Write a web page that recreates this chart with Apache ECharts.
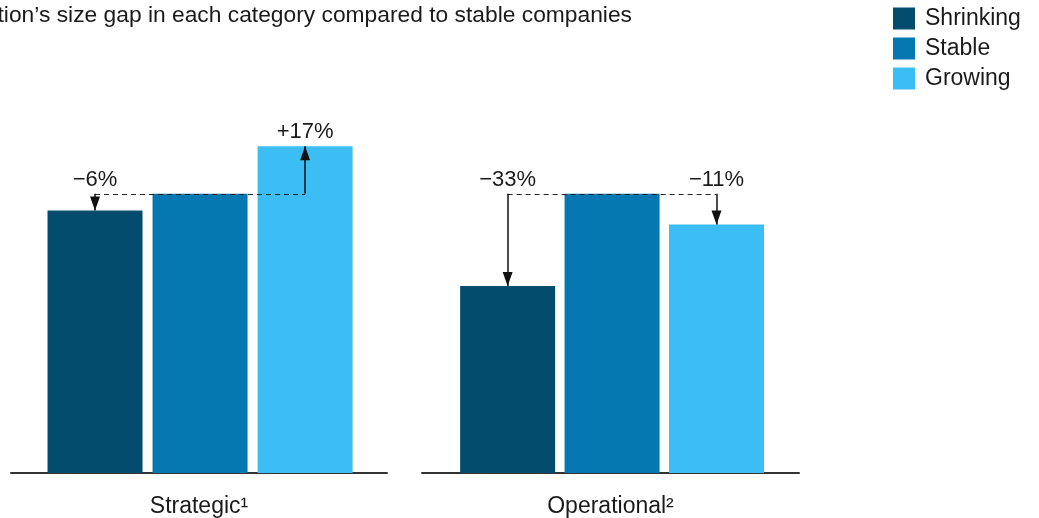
<!DOCTYPE html>
<html>
<head>
<meta charset="utf-8">
<script src="https://cdn.jsdelivr.net/npm/echarts@6/dist/echarts.min.js"></script>
<style>
  html, body { margin: 0; padding: 0; background: #ffffff; }
  #chart { width: 1039px; height: 518px; }
</style>
</head>
<body>
<div id="chart"></div>
<script>
// Size of each organization type, indexed to stable companies = 100
const seriesNames = ['Shrinking', 'Stable', 'Growing'];
const categories = ['Strategic¹', 'Operational²'];
const strategicValues = [94, 100, 117];
const operationalValues = [67, 100, 89];
const groupValues = [strategicValues, operationalValues];
const baseIndex = 1; // "Stable" is the reference bar
const colors = ['#034c6e', '#0577b1', '#3cbef4'];
const subtitle = 'Organization’s size gap in each category compared to stable companies';

const FONT = '"Liberation Sans", Arial, sans-serif';
const TEXT = '#1a1a1a';

// Gap label from a value relative to the stable bar
function gapText(v, base) {
  const d = Math.round(v - base);
  return (d > 0 ? '+' : '\u2212') + Math.abs(d) + '%';
}

const grids = [
  { left: 11, top: 110, width: 376, height: 363, outerBoundsMode: 'none', containLabel: false },
  { left: 422, top: 110, width: 377, height: 363, outerBoundsMode: 'none', containLabel: false }
];
const xRanges = [[-0.8, 2.78], [-0.82, 2.79]];

const xAxes = categories.map((name, g) => ({
  type: 'value',
  gridIndex: g,
  min: xRanges[g][0],
  max: xRanges[g][1],
  name: name,
  nameLocation: 'middle',
  nameGap: 22,
  nameTextStyle: { fontSize: 23, color: TEXT, fontFamily: FONT, verticalAlign: 'top' },
  axisLine: { show: true, onZero: false, lineStyle: { color: '#333333', width: 2 } },
  axisTick: { show: false },
  axisLabel: { show: false },
  splitLine: { show: false }
}));

const yAxes = categories.map((_, g) => ({
  type: 'value',
  gridIndex: g,
  min: 0,
  max: 130,
  show: false,
  splitLine: { show: false }
}));

const series = [];
groupValues.forEach((vals, g) => {
  const base = vals[baseIndex];
  vals.forEach((v, s) => {
    const item = {
      type: 'bar',
      name: seriesNames[s],
      xAxisIndex: g,
      yAxisIndex: g,
      barWidth: 95,
      barGap: '-100%',
      itemStyle: { color: colors[s] },
      emphasis: { disabled: true },
      data: [[s, v]]
    };
    if (s === baseIndex) {
      const lines = [
        // dashed reference at the stable level
        [
          { coord: [0, base], symbol: 'none', lineStyle: { type: [5, 4], width: 1.2, color: '#222' }, label: { show: false } },
          { coord: [vals.length - 1, base], symbol: 'none' }
        ]
      ];
      vals.forEach((ov, os) => {
        if (os === baseIndex) return;
        lines.push([
          {
            coord: [os, base],
            symbol: 'none',
            label: {
              show: true,
              position: ov > base ? 'end' : 'start',
              formatter: gapText(ov, base)
            }
          },
          // arrow tip ends exactly on the bar top
          { coord: [os, ov], symbol: 'triangle', symbolSize: [10, 14], symbolOffset: [0, 7] }
        ]);
      });
      item.markLine = {
        silent: true,
        animation: false,
        lineStyle: { color: '#111', width: 1.5, type: 'solid' },
        label: { fontSize: 22, color: TEXT, fontFamily: FONT, distance: 3 },
        data: lines
      };
    }
    series.push(item);
  });
});

const chart = echarts.init(document.getElementById('chart'), null, { renderer: 'canvas' });
chart.setOption({
  animation: false,
  backgroundColor: '#ffffff',
  textStyle: { fontFamily: FONT },
  grid: grids,
  xAxis: xAxes,
  yAxis: yAxes,
  legend: {
    data: seriesNames,
    orient: 'vertical',
    left: 893,
    top: 7,
    padding: 0,
    icon: 'rect',
    itemWidth: 22,
    itemHeight: 22,
    itemGap: 7,
    selectedMode: false,
    textStyle: { fontSize: 23, color: TEXT, fontFamily: FONT, padding: [0, 0, 0, 5], lineHeight: 22 }
  },
  graphic: [{
    type: 'text',
    x: 632,
    y: 16,
    style: {
      text: subtitle,
      fill: TEXT,
      font: '22.8px ' + FONT,
      align: 'right',
      verticalAlign: 'middle'
    }
  }],
  series: series
});
</script>
</body>
</html>
